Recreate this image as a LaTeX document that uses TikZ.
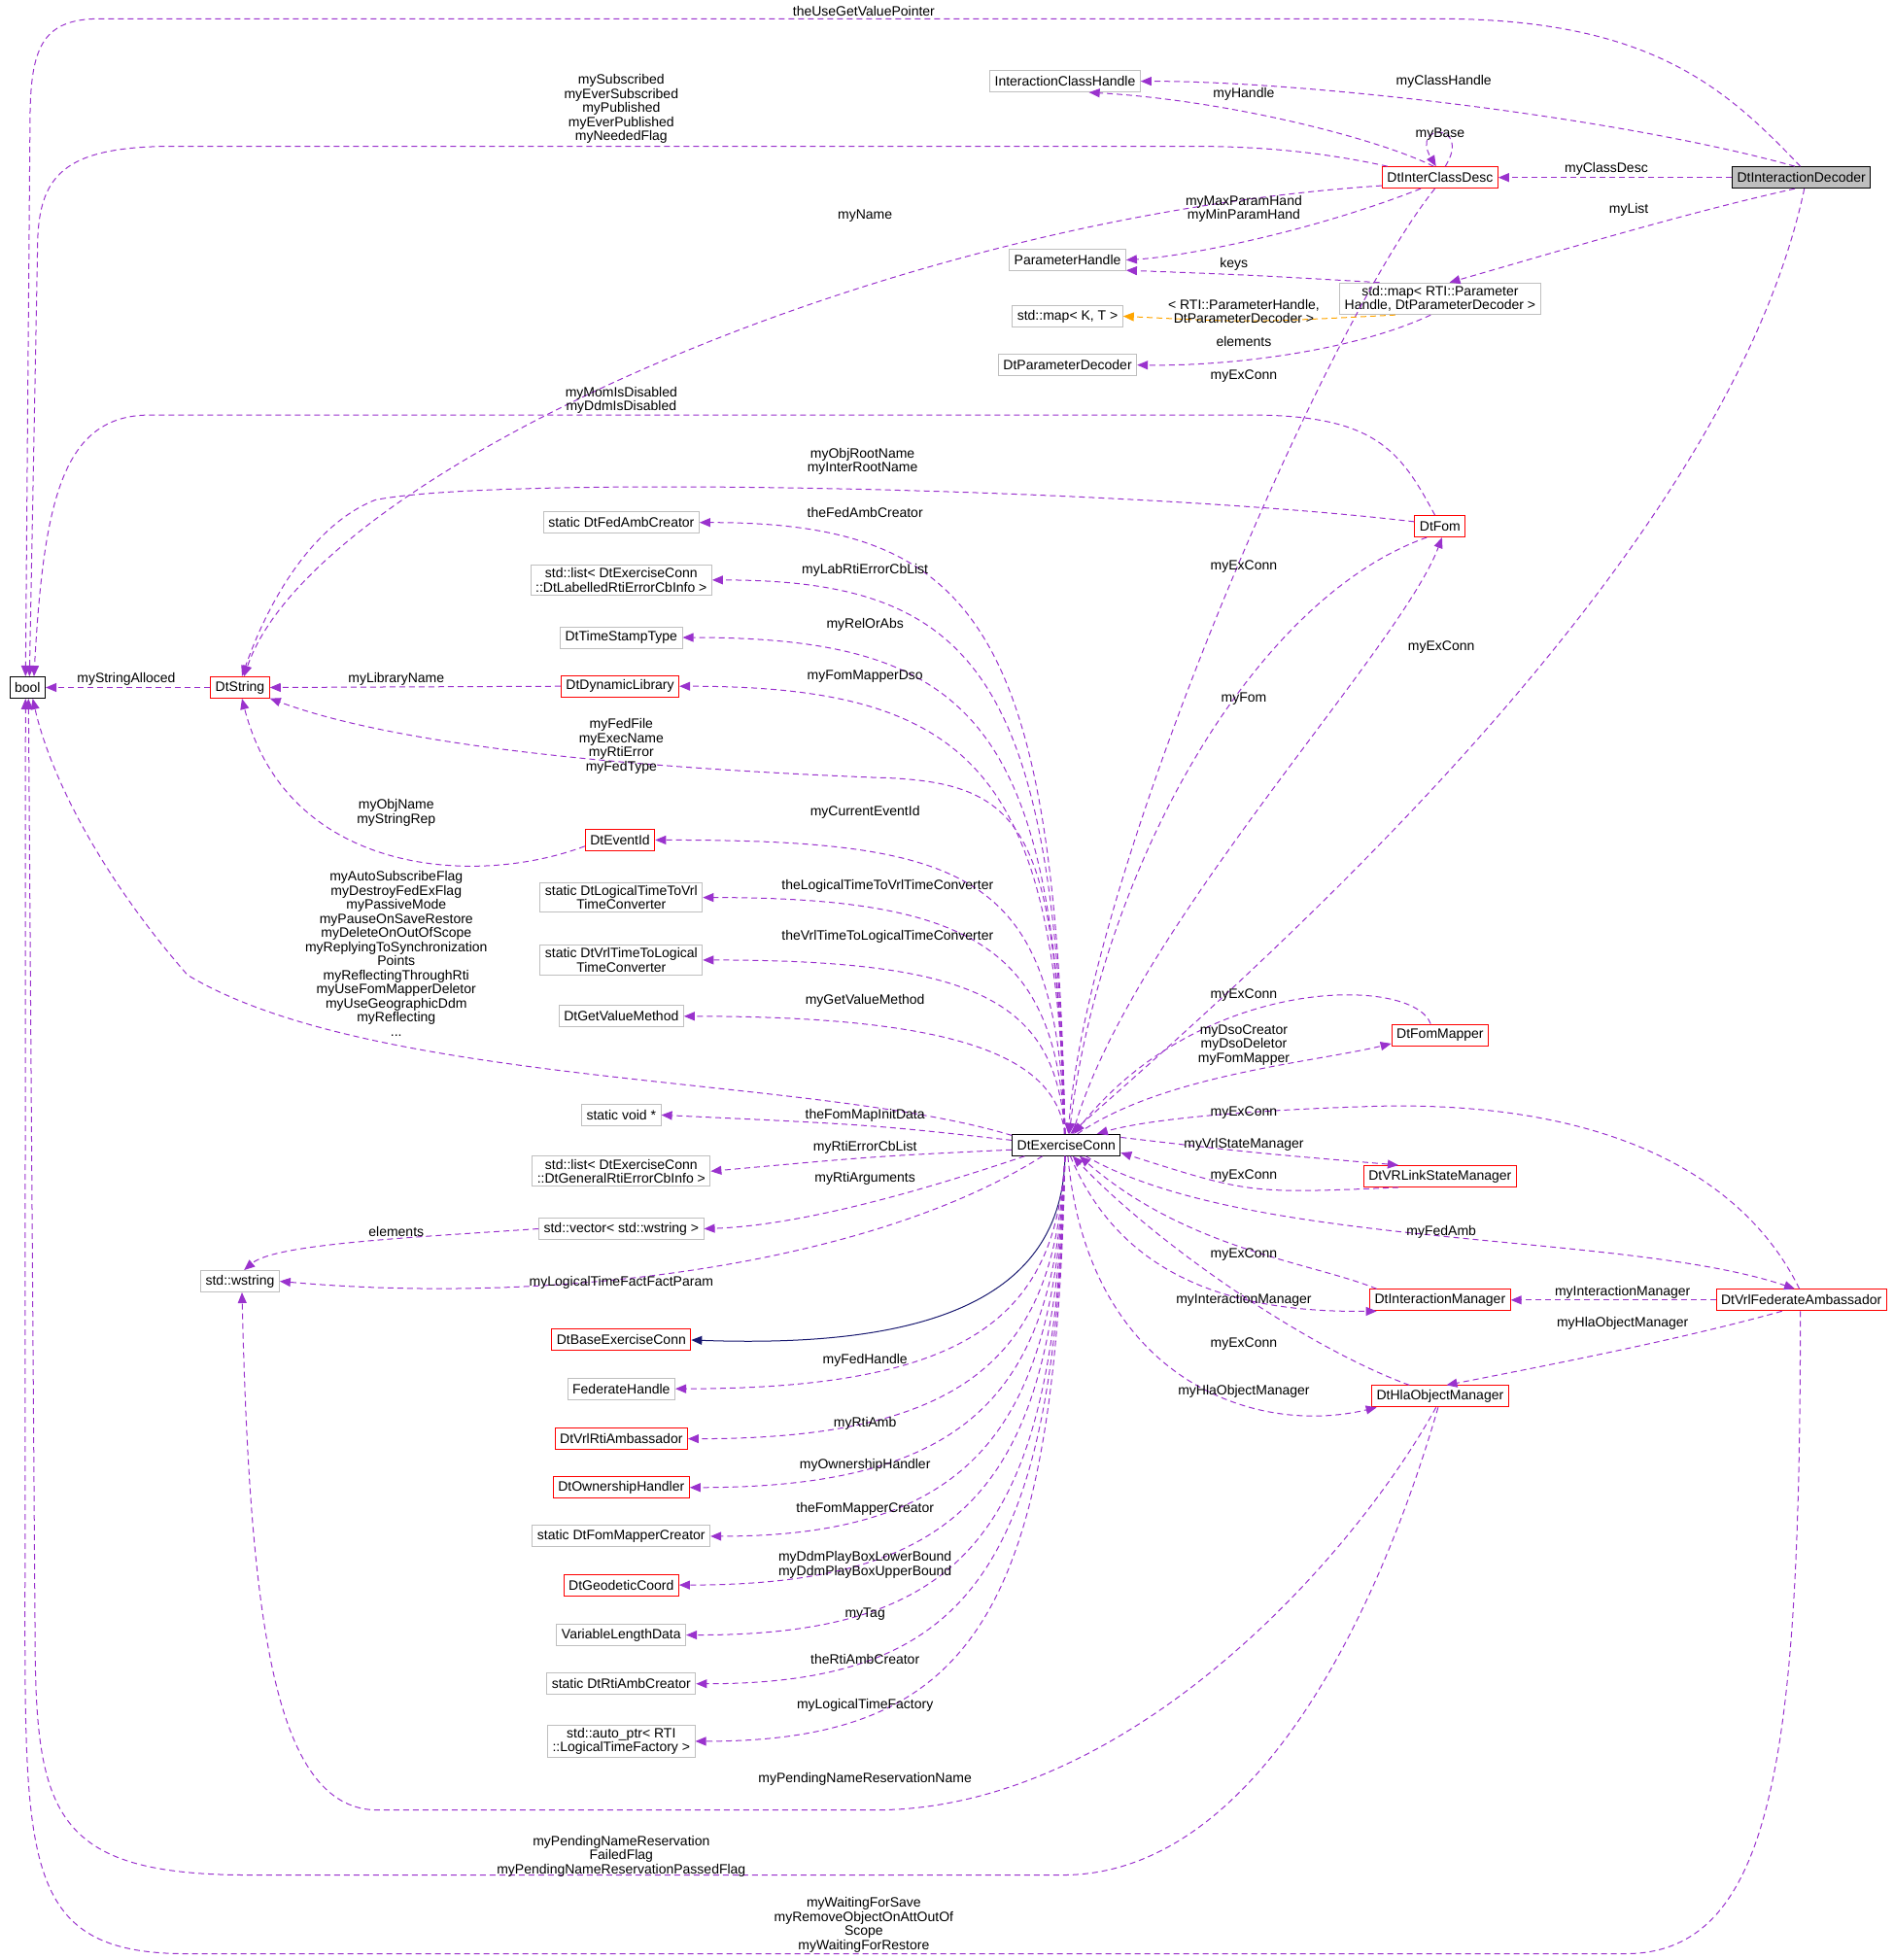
\documentclass[tikz,border=0pt]{standalone}
\usepackage{fontspec}
\setmainfont{Liberation Sans}
\usetikzlibrary{arrows.meta}
\definecolor{pur}{HTML}{9A32CD}
\definecolor{org}{HTML}{FFA500}
\definecolor{nav}{HTML}{191970}
\definecolor{gb}{HTML}{BFBFBF}
\begin{document}
\begin{tikzpicture}[x=1.2865pt,y=-1.2865pt,
  font=\fontsize{14}{14.5}\selectfont,
  box/.style={draw=gb,line width=1pt,inner xsep=5pt,inner ysep=3pt,minimum height=22pt,align=center,fill=white},
  rb/.style={box,draw=red},
  kb/.style={box,draw=black},
  lab/.style={inner sep=0pt,align=center},
  e/.style={draw=pur,dashed,dash pattern=on 6pt off 4pt,line width=1pt,-{Triangle[length=11pt,width=9pt]}},
  eo/.style={e,draw=org},
  inh/.style={draw=nav,line width=1pt,-{Triangle[length=11pt,width=9pt]}}]
\useasboundingbox (0,0) rectangle (1515,1568);
% nodes
\node[kb] (bool) at (22,550) {bool};
\node[rb] (dstr) at (192,550) {DtString};
\node[rb] (dl) at (496,549) {DtDynamicLibrary};
\node[kb,fill=gb] (dec) at (1441,142) {DtInteractionDecoder};
\node[box] (ich) at (852,65) {InteractionClassHandle};
\node[rb] (icd) at (1152,142) {DtInterClassDesc};
\node[box] (ph) at (854,208) {ParameterHandle};
\node[box] (map) at (1152,239) {std::map< RTI::Parameter\\Handle, DtParameterDecoder >};
\node[box] (kt) at (854,253) {std::map< K, T >};
\node[box] (pd) at (854,292) {DtParameterDecoder};
\node[rb] (fom) at (1152,421) {DtFom};
\node[box] (fac) at (497,418) {static DtFedAmbCreator};
\node[box] (llist) at (497,464) {std::list< DtExerciseConn\\::DtLabelledRtiErrorCbInfo >};
\node[box] (tst) at (497,510) {DtTimeStampType};
\node[rb] (eid) at (496,672) {DtEventId};
\node[box] (l2v) at (497,718) {static DtLogicalTimeToVrl\\TimeConverter};
\node[box] (v2l) at (497,768) {static DtVrlTimeToLogical\\TimeConverter};
\node[box] (gvm) at (497,813) {DtGetValueMethod};
\node[box] (svoid) at (497,892) {static void *};
\node[box] (glist) at (497,937) {std::list< DtExerciseConn\\::DtGeneralRtiErrorCbInfo >};
\node[box] (vec) at (497,983) {std::vector< std::wstring >};
\node[box] (wstr) at (192,1025) {std::wstring};
\node[rb] (base) at (497,1072) {DtBaseExerciseConn};
\node[box] (fh) at (497,1111) {FederateHandle};
\node[rb] (rtia) at (497,1151) {DtVrlRtiAmbassador};
\node[rb] (own) at (497,1190) {DtOwnershipHandler};
\node[box] (fmc) at (497,1229) {static DtFomMapperCreator};
\node[rb] (geo) at (497,1268) {DtGeodeticCoord};
\node[box] (vld) at (497,1308) {VariableLengthData};
\node[box] (rac) at (497,1347) {static DtRtiAmbCreator};
\node[box] (aptr) at (497,1393) {std::auto\_ptr< RTI\\::LogicalTimeFactory >};
\node[kb] (exc) at (853,916) {DtExerciseConn};
\node[rb] (fm) at (1152,828) {DtFomMapper};
\node[rb] (vrl) at (1152,941) {DtVRLinkStateManager};
\node[rb] (im) at (1152,1040) {DtInteractionManager};
\node[rb] (vfa) at (1441,1040) {DtVrlFederateAmbassador};
\node[rb] (hom) at (1152,1117) {DtHlaObjectManager};
% edges top
\draw[e] (dec.95) .. controls (1380,70) and (1320,15) .. (1150,15) -- (80,15) .. controls (32,15) and (24,40) .. (24,100) -- (bool.100);
\draw[e] (dec.120) .. controls (1300,95) and (1050,65) .. (ich.east);
\draw[e] (dec.west) -- (icd.east);
\draw[e] (dec.-120) .. controls (1350,170) and (1250,200) .. (map.60);
\draw[e] (dec.-75) .. controls (1380,450) and (1000,780) .. (exc.70);
\draw[e] (icd.120) .. controls (1100,110) and (980,80) .. (ich.-25);
\draw[e] (icd.65) .. controls (1178,98) and (1128,98) .. (icd.110);
\draw[e] (icd.168) .. controls (1050,120) and (1000,117) .. (950,117) -- (140,117) .. controls (50,117) and (30,140) .. (30,200) -- (bool.80);
\draw[e] (icd.188) .. controls (700,175) and (250,380) .. (dstr.70);
\draw[e] (icd.-150) .. controls (1050,185) and (950,205) .. (ph.east);
\draw[e] (icd.-115) .. controls (1060,260) and (870,700) .. (exc.80);
\draw[e] (map.165) .. controls (1000,220) .. (ph.-10);
\draw[eo] (map.200) .. controls (1000,258) .. (kt.east);
\draw[e] (map.-120) .. controls (1080,282) and (980,293) .. (pd.east);
\draw[e] (fom.115) .. controls (1120,360) and (1100,332) .. (1000,332) -- (120,332) .. controls (50,332) and (35,400) .. (bool.60);
\draw[e] (fom.170) .. controls (900,390) and (400,380) .. (300,400) .. controls (250,420) and (215,480) .. (dstr.80);
\draw[e] (fom.-140) .. controls (1000,480) and (880,700) .. (exc.75);
\draw[e] (exc.60) .. controls (900,750) and (1120,520) .. (fom.-80);
% left fan
\draw[e] (exc.97) .. controls (845,500) and (780,418) .. (fac.east);
\draw[e] (exc.97) .. controls (845,540) and (780,464) .. (llist.east);
\draw[e] (exc.97) .. controls (845,580) and (780,510) .. (tst.east);
\draw[e] (exc.97) .. controls (845,620) and (780,549) .. (dl.east);
\draw[e] (exc.97) .. controls (845,700) and (780,672) .. (eid.east);
\draw[e] (exc.97) .. controls (845,760) and (780,718) .. (l2v.east);
\draw[e] (exc.97) .. controls (845,800) and (780,768) .. (v2l.east);
\draw[e] (exc.97) .. controls (845,850) and (780,813) .. (gvm.east);
\draw[e] (exc.100) .. controls (845,660) and (820,625) .. (700,622) .. controls (450,612) and (300,590) .. (dstr.-20);
\draw[e] (dl.west) -- (dstr.east);
\draw[e] (dstr.west) -- (bool.east);
\draw[e] (eid.190) .. controls (380,710) and (230,700) .. (dstr.-80);
\draw[e] (exc.170) .. controls (650,860) and (300,870) .. (150,780) .. controls (80,700) and (40,620) .. (bool.-65);
\draw[e] (exc.175) .. controls (700,900) .. (svoid.east);
\draw[e] (exc.-175) .. controls (700,925) .. (glist.east);
\draw[e] (exc.-165) .. controls (760,945) and (650,980) .. (vec.east);
\draw[e] (vec.west) .. controls (330,990) and (220,995) .. (wstr.70);
\draw[e] (exc.-155) .. controls (700,1010) and (450,1045) .. (wstr.east);
\draw[inh] (exc.-97) .. controls (850,1050) and (720,1078) .. (base.east);
\draw[e] (exc.-97) .. controls (845,1050) and (780,1111) .. (fh.east);
\draw[e] (exc.-97) .. controls (845,1080) and (780,1151) .. (rtia.east);
\draw[e] (exc.-97) .. controls (845,1110) and (780,1190) .. (own.east);
\draw[e] (exc.-97) .. controls (845,1140) and (780,1229) .. (fmc.east);
\draw[e] (exc.-97) .. controls (845,1180) and (780,1268) .. (geo.east);
\draw[e] (exc.-97) .. controls (845,1220) and (780,1308) .. (vld.east);
\draw[e] (exc.-97) .. controls (845,1250) and (780,1347) .. (rac.east);
\draw[e] (exc.-97) .. controls (845,1290) and (780,1393) .. (aptr.east);
% right
\draw[e] (fm.130) .. controls (1130,780) and (960,780) .. (exc.55);
\draw[e] (exc.45) .. controls (930,860) and (1050,850) .. (fm.-170);
\draw[e] (vfa.100) .. controls (1400,950) and (1300,880) .. (1100,885) .. controls (1000,888) and (920,895) .. (exc.20);
\draw[e] (exc.8) .. controls (1000,922) .. (vrl.165);
\draw[e] (vrl.-165) .. controls (1000,955) .. (exc.-8);
\draw[e] (exc.-30) .. controls (1000,1000) and (1300,985) .. (vfa.120);
\draw[e] (im.170) .. controls (1050,1010) and (950,1000) .. (exc.-40);
\draw[e] (exc.-70) .. controls (900,1030) and (1000,1050) .. (im.-170);
\draw[e] (vfa.west) -- (im.east);
\draw[e] (vfa.-150) .. controls (1350,1070) and (1250,1090) .. (hom.60);
\draw[e] (hom.160) .. controls (1050,1080) and (930,1000) .. (exc.-60);
\draw[e] (exc.-82) .. controls (870,1100) and (1000,1150) .. (hom.-170);
\draw[e] (hom.-110) .. controls (1080,1250) and (900,1448) .. (700,1448) -- (300,1448) .. controls (220,1445) and (200,1300) .. (wstr.-80);
\draw[e] (hom.-100) .. controls (1100,1300) and (1000,1500) .. (850,1500) -- (200,1500) .. controls (40,1500) and (28,1450) .. (28,1300) -- (bool.-85);
\draw[e] (vfa.-95) .. controls (1440,1400) and (1420,1563) .. (1300,1563) -- (150,1563) .. controls (25,1563) and (20,1500) .. (20,1300) -- (bool.-100);
% labels
\node[lab] (l1) at (691,9) {theUseGetValuePointer};
\node[lab] (l2) at (1155,65) {myClassHandle};
\node[lab] (l3) at (1285,135) {myClassDesc};
\node[lab] (l4) at (1303,168) {myList};
\node[lab] (l5) at (1153,518) {myExConn};
\node[lab] (l6) at (995,75) {myHandle};
\node[lab] (l7) at (1152,107) {myBase};
\node[lab] (l8) at (497,87) {mySubscribed\\myEverSubscribed\\myPublished\\myEverPublished\\myNeededFlag};
\node[lab] (l9) at (692,173) {myName};
\node[lab] (l10) at (995,167) {myMaxParamHand\\myMinParamHand};
\node[lab] (l11) at (995,301) {myExConn};
\node[lab] (l12) at (987,211) {keys};
\node[lab] (l13) at (995,249) {< RTI::ParameterHandle,\\DtParameterDecoder >};
\node[lab] (l14) at (995,273) {elements};
\node[lab] (l15) at (497,320) {myMomIsDisabled\\myDdmIsDisabled};
\node[lab] (l16) at (690,369) {myObjRootName\\myInterRootName};
\node[lab] (l17) at (995,453) {myExConn};
\node[lab] (l18) at (995,559) {myFom};
\node[lab] (l19) at (692,410) {theFedAmbCreator};
\node[lab] (l20) at (692,456) {myLabRtiErrorCbList};
\node[lab] (l21) at (692,500) {myRelOrAbs};
\node[lab] (l22) at (692,541) {myFomMapperDso};
\node[lab] (l23) at (317,543) {myLibraryName};
\node[lab] (l24) at (101,543) {myStringAlloced};
\node[lab] (l25) at (497,597) {myFedFile\\myExecName\\myRtiError\\myFedType};
\node[lab] (l26) at (317,650) {myObjName\\myStringRep};
\node[lab] (l27) at (692,650) {myCurrentEventId};
\node[lab] (l28) at (710,709) {theLogicalTimeToVrlTimeConverter};
\node[lab] (l29) at (710,749) {theVrlTimeToLogicalTimeConverter};
\node[lab] (l30) at (692,801) {myGetValueMethod};
\node[lab] (l31) at (317,763) {myAutoSubscribeFlag\\myDestroyFedExFlag\\myPassiveMode\\myPauseOnSaveRestore\\myDeleteOnOutOfScope\\myReplyingToSynchronization\\Points\\myReflectingThroughRti\\myUseFomMapperDeletor\\myUseGeographicDdm\\myReflecting\\...};
\node[lab] (l32) at (692,892) {theFomMapInitData};
\node[lab] (l33) at (692,918) {myRtiErrorCbList};
\node[lab] (l34) at (692,943) {myRtiArguments};
\node[lab] (l35) at (317,985) {elements};
\node[lab] (l36) at (497,1026) {myLogicalTimeFactFactParam};
\node[lab] (l38) at (692,1088) {myFedHandle};
\node[lab] (l39) at (692,1139) {myRtiAmb};
\node[lab] (l40) at (692,1172) {myOwnershipHandler};
\node[lab] (l41) at (692,1207) {theFomMapperCreator};
\node[lab] (l42) at (692,1252) {myDdmPlayBoxLowerBound\\myDdmPlayBoxUpperBound};
\node[lab] (l43) at (692,1291) {myTag};
\node[lab] (l44) at (692,1327) {theRtiAmbCreator};
\node[lab] (l45) at (692,1364) {myLogicalTimeFactory};
\node[lab] (l46) at (995,796) {myExConn};
\node[lab] (l47) at (995,836) {myDsoCreator\\myDsoDeletor\\myFomMapper};
\node[lab] (l48) at (995,890) {myExConn};
\node[lab] (l49) at (995,916) {myVrlStateManager};
\node[lab] (l50) at (995,941) {myExConn};
\node[lab] (l51) at (1153,986) {myFedAmb};
\node[lab] (l52) at (995,1004) {myExConn};
\node[lab] (l53) at (995,1040) {myInteractionManager};
\node[lab] (l54) at (1298,1034) {myInteractionManager};
\node[lab] (l55) at (1298,1059) {myHlaObjectManager};
\node[lab] (l56) at (995,1075) {myExConn};
\node[lab] (l57) at (995,1113) {myHlaObjectManager};
\node[lab] (l58) at (692,1423) {myPendingNameReservationName};
\node[lab] (l59) at (497,1485) {myPendingNameReservation\\FailedFlag\\myPendingNameReservationPassedFlag};
\node[lab] (l60) at (691,1540) {myWaitingForSave\\myRemoveObjectOnAttOutOf\\Scope\\myWaitingForRestore};
\end{tikzpicture}
\end{document}
